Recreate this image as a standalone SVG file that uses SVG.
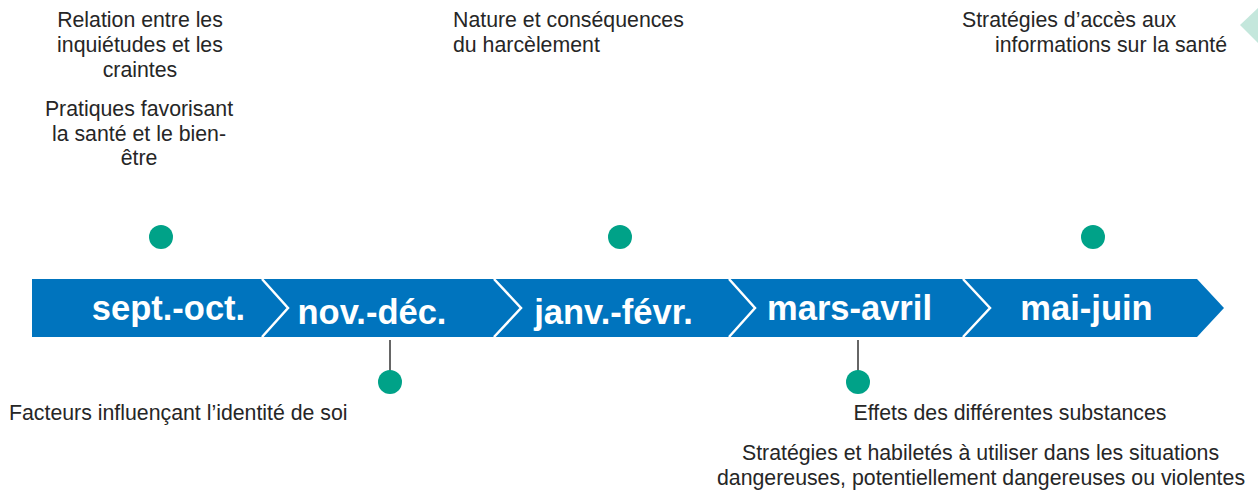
<svg xmlns="http://www.w3.org/2000/svg" width="1258" height="493" viewBox="0 0 1258 493">
<style>
.lbl{font-family:"Liberation Sans",Arial,sans-serif;font-size:21.3px;fill:#262626}
.mid{text-anchor:middle}
.mon{font-family:"Liberation Sans",Arial,sans-serif;font-size:34.5px;font-weight:bold;fill:#ffffff;text-anchor:middle}
.dot{fill:#00A288}
.sep{fill:none;stroke:#ffffff;stroke-width:2.5}
.stem{stroke:#333333;stroke-width:1.5}
</style>
<rect width="1258" height="493" fill="#ffffff"/>
<polygon points="1240,25 1258,8 1258,43" fill="#C4E7DC"/>
<g id="banner">
<polygon points="32,279 1197,279 1224,308 1197,337 32,337" fill="#0074BE"/>
<polyline class="sep" points="262,279 288,308 262,337"/>
<polyline class="sep" points="494,279 521,308 494,337"/>
<polyline class="sep" points="729,279 755,308 729,337"/>
<polyline class="sep" points="963,279 990,308 963,337"/>
</g>
<g id="months">
<text id="m1" class="mon" x="168.5" y="320">sept.-oct.</text>
<text id="m2" class="mon" x="372" y="324">nov.-déc.</text>
<text id="m3" class="mon" x="613.5" y="324">janv.-févr.</text>
<text id="m4" class="mon" x="849.5" y="320">mars-avril</text>
<text id="m5" class="mon" x="1086.5" y="320">mai-juin</text>
</g>
<g id="connectors">
<line class="stem" x1="390" y1="340" x2="390" y2="372"/>
<line class="stem" x1="858" y1="340" x2="858" y2="372"/>
</g>
<g id="n1">
<circle class="dot" cx="161" cy="237" r="12"/>
<text class="lbl mid" x="140" y="27">Relation entre les</text>
<text class="lbl mid" x="140" y="52">inquiétudes et les</text>
<text class="lbl mid" x="140" y="77">craintes</text>
<text class="lbl mid" x="139" y="116">Pratiques favorisant</text>
<text class="lbl mid" x="139" y="141">la santé et le bien-</text>
<text class="lbl mid" x="139" y="165">être</text>
</g>
<g id="n2">
<circle class="dot" cx="390" cy="382" r="12"/>
<text class="lbl" x="9" y="420">Facteurs influençant l’identité de soi</text>
</g>
<g id="n3">
<circle class="dot" cx="620" cy="237" r="12"/>
<text class="lbl" x="453" y="27">Nature et conséquences</text>
<text class="lbl" x="453" y="52">du harcèlement</text>
</g>
<g id="n4">
<circle class="dot" cx="858" cy="382" r="12"/>
<text class="lbl mid" x="1010" y="420">Effets des différentes substances</text>
<text class="lbl mid" x="980.5" y="460">Stratégies et habiletés à utiliser dans les situations</text>
<text class="lbl mid" x="981" y="485">dangereuses, potentiellement dangereuses ou violentes</text>
</g>
<g id="n5">
<circle class="dot" cx="1093" cy="237" r="12"/>
<text class="lbl" x="962" y="27">Stratégies d’accès aux</text>
<text class="lbl" x="995" y="52">informations sur la santé</text>
</g>
</svg>
